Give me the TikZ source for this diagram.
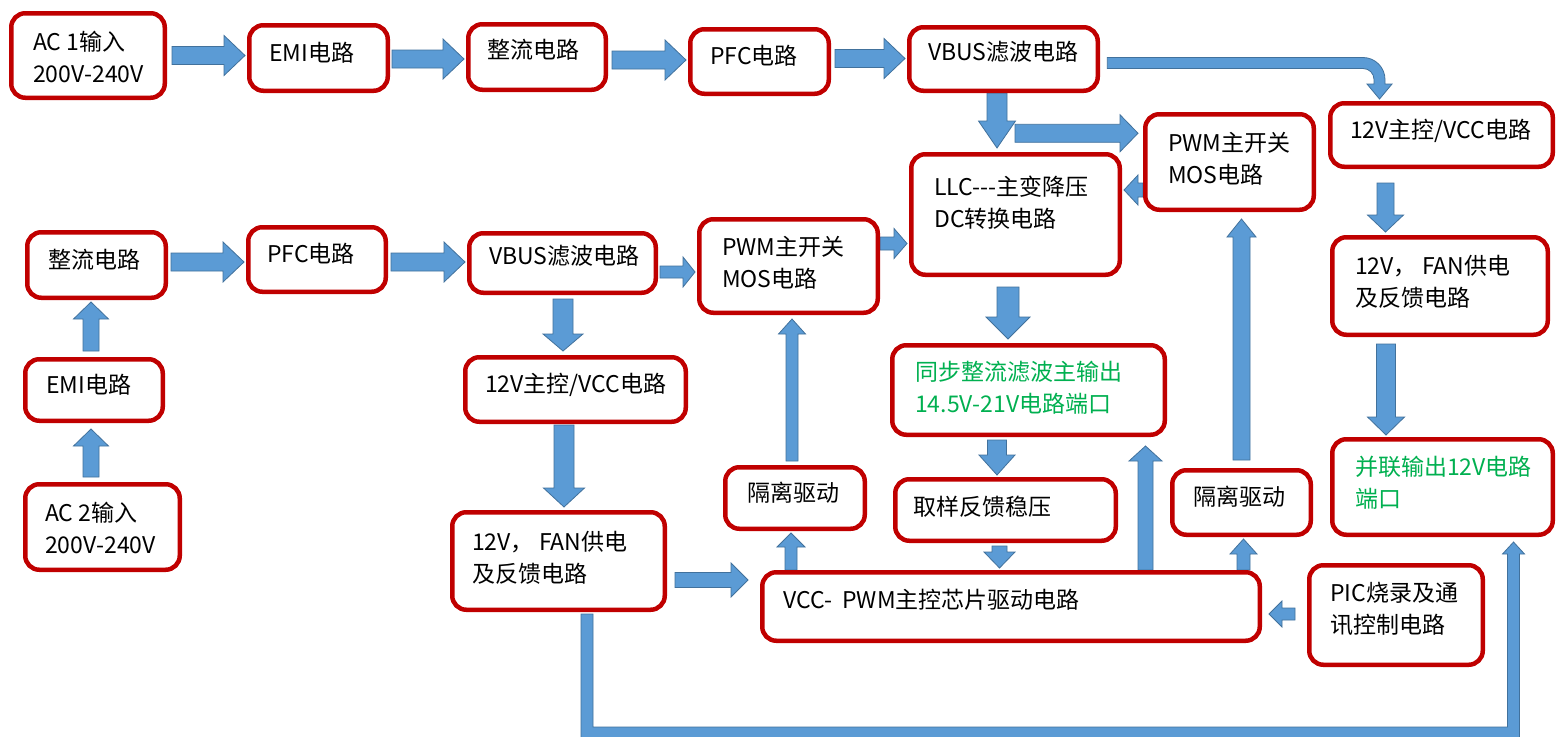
\documentclass[tikz,border=0pt]{standalone}
\usepackage{fontspec}
\setmainfont{Noto Sans CJK SC}
\usetikzlibrary{calc}
\definecolor{boxred}{HTML}{C00000}
\definecolor{afill}{HTML}{5B9BD5}
\definecolor{aline}{HTML}{41719C}
\definecolor{tgreen}{HTML}{00B050}
\pgfdeclarelayer{bgl}
\pgfdeclarelayer{arl}
\pgfsetlayers{bgl,arl,main}
\pgfkeys{/blk/.is family,/blk,
  s/.store in=\blkS, h/.store in=\blkH, l/.store in=\blkL,
  a/.store in=\blkA, b/.store in=\blkB,
  s=9pt, h=20pt, l=21pt, a=0pt, b=2pt}
\tikzset{
  box/.style={draw=boxred, line width=4.5pt, rounded corners=14pt, fill=white, inner sep=0pt},
  txt/.style={anchor=west, inner sep=0pt, align=left, font=\fontsize{23}{32}\selectfont},
  gtxt/.style={txt, text=tgreen},
  blkarrow/.style={fill=afill, draw=aline, line width=0.8pt, line join=miter},
}
% generic block arrow: #1 keys, #2 start, #3 target, #4 end point expression
\newcommand\blkarr[4]{\begingroup\pgfkeys{/blk,#1}%
  \path[blkarrow] let \p1=#2, \p9=#3, \p2=#4, \n2={atan2(\y2-\y1,\x2-\x1)},
    \p3=($(\p1)+(\n2:\blkA)$), \p4=($(\p2)+(\n2+180:\blkB)$), \p5=($(\p4)+(\n2+180:\blkL)$) in
    ($(\p3)+(\n2+90:\blkS)$) -- ($(\p5)+(\n2+90:\blkS)$) -- ($(\p5)+(\n2+90:\blkH)$) -- (\p4)
    -- ($(\p5)+(\n2-90:\blkH)$) -- ($(\p5)+(\n2-90:\blkS)$) -- ($(\p3)+(\n2-90:\blkS)$) -- cycle;
  \endgroup}
\newcommand\harr[3][]{\blkarr{#1}{#2}{#3}{(\x9,\y1)}}
\newcommand\varr[3][]{\blkarr{#1}{#2}{#3}{(\x1,\y9)}}
\newcommand\bx[5]{\node[box, minimum width={#4-#2-4.5}, minimum height={#5-#3-4.5}] (#1) at ({(#2+#4)/2},{(#3+#5)/2}) {};}
\begin{document}
\begin{tikzpicture}[x=1pt, y=-1pt]
\begin{pgfonlayer}{bgl}
\fill[white] (0,0) rectangle (1557,736);
\end{pgfonlayer}
\useasboundingbox (0,0) rectangle (1557,736);
% boxes
\bx{ac1}{9}{11}{167}{100}
\bx{emi1}{247}{23}{390}{93}
\bx{zl1}{466}{22}{608}{92}
\bx{pfc1}{688}{27}{831}{96}
\bx{vbus1}{907}{25}{1100}{93}
\bx{ctl1}{1328}{101}{1555}{169}
\bx{pwm1}{1143}{112}{1316}{212}
\bx{llc}{909}{152}{1122}{277}
\bx{fan1}{1330}{235}{1550}{337}
\bx{out12}{1330}{437}{1555}{537}
\bx{zl2}{25}{230}{168}{300}
\bx{pfc2}{246}{225}{388}{294}
\bx{vbus2}{467}{231}{658}{295}
\bx{pwm2}{697}{217}{880}{315}
\bx{emi2}{23}{357}{165}{423}
\bx{ctl2}{463}{355}{688}{424}
\bx{sync}{890}{343}{1167}{437}
\bx{ac2}{23}{482}{182}{572}
\bx{fan2}{450}{510}{667}{612}
\bx{iso1}{723}{465}{867}{531}
\bx{samp}{893}{477}{1118}{543}
\bx{iso2}{1170}{468}{1313}{537}
\bx{vcc}{760}{570}{1262}{643}
\bx{pic}{1307}{563}{1485}{667}
% texts
\node[txt] (ac1-t) at (33,57) {AC 1输入\\200V-240V};
\node[txt] (emi1-t) at (269,53) {EMI电路};
\node[txt] (zl1-t) at (487,50) {整流电路};
\node[txt] (pfc1-t) at (710,56) {PFC电路};
\node[txt] (vbus1-t) at (928,52) {VBUS滤波电路};
\node[txt] (ctl1-t) at (1350,131) {12V主控/VCC电路};
\node[txt] (pwm1-t) at (1168,159) {PWM主开关\\MOS电路};
\node[txt] (llc-t) at (934,203) {LLC-\kern0pt-\kern0pt-主变降压\\DC转换电路};
\node[txt] (fan1-t) at (1355,282) {12V，\ FAN供电\\及反馈电路};
\node[gtxt] (out12-t) at (1355,483) {并联输出12V电路\\端口};
\node[txt] (zl2-t) at (48,260) {整流电路};
\node[txt] (pfc2-t) at (267,254) {PFC电路};
\node[txt] (vbus2-t) at (489,256) {VBUS滤波电路};
\node[txt] (pwm2-t) at (722,263) {PWM主开关\\MOS电路};
\node[txt] (emi2-t) at (46,385) {EMI电路};
\node[txt] (ctl2-t) at (485,385) {12V主控/VCC电路};
\node[gtxt] (sync-t) at (915,388) {同步整流滤波主输出\\14.5V-21V电路端口};
\node[txt] (ac2-t) at (45,528) {AC 2输入\\200V-240V};
\node[txt] (fan2-t) at (472,558) {12V，\ FAN供电\\及反馈电路};
\node[txt] (iso1-t) at (747,493) {隔离驱动};
\node[txt] (samp-t) at (913,507) {取样反馈稳压};
\node[txt] (iso2-t) at (1193,497) {隔离驱动};
\node[txt] (vcc-t) at (783,600) {VCC-\ \ PWM主控芯片驱动电路};
\node[txt] (pic-t) at (1330,609) {PIC烧录及通\\讯控制电路};
% arrows
\begin{pgfonlayer}{arl}
\harr{($(ac1.east)+(5,0)$)}{(emi1.west)}
\harr{($(emi1.east)+(2,1)$)}{(zl1.west)}
\harr{($(zl1.east)+(4,3)$)}{(pfc1.west)}
\harr{($(pfc1.east)+(4,-3)$)}{(vbus1.west)}
\harr{($(zl2.east)+(3,-3)$)}{(pfc2.west)}
\harr{($(pfc2.east)+(3,2.5)$)}{(vbus2.west)}
\harr[s=6pt,h=15pt,l=12pt]{($(vbus2.east)+(2,9)$)}{(pwm2.west)}
\harr[s=6.5pt,h=15pt,l=13pt]{($(pwm2.east)+(0,-22.5)$)}{(llc.west)}
\harr[s=7pt,h=15pt,l=14pt]{($(pwm1.west)+(0,28)$)}{(llc.east)}
\harr[s=9pt,h=18.5pt,l=18pt,b=5pt]{($(vbus1.south)+(11.5,40.25)$)}{(pwm1.west)}
\varr[s=10pt,h=18.5pt,l=27pt,b=4pt]{($(vbus1.south)+(-6.5,0)$)}{(llc.north)}
\varr[s=8.5pt,h=18pt,l=17pt,b=3pt]{($(ctl1.south)+(-56,14)$)}{(fan1.north)}
\varr[s=9.5pt,h=18.5pt,l=18pt]{($(fan1.south)+(-54,7)$)}{(out12.north)}
\varr[s=8pt,h=17.5pt,l=17pt]{($(emi2.north)+(-3,-6)$)}{(zl2.south)}
\varr[s=8pt,h=17.5pt,l=17pt,b=6pt]{($(ac2.north)+(-11.5,-5)$)}{(emi2.south)}
\varr[s=10pt,h=20pt,l=17pt,b=4pt]{($(vbus2.south)+(0.5,4)$)}{(ctl2.north)}
\varr[s=10pt,h=20.5pt,l=19pt,b=3pt]{($(ctl2.south)+(-11.5,1)$)}{(fan2.north)}
\varr[s=11pt,h=22pt,l=22pt,b=4pt]{($(llc.south)+(-7.5,10)$)}{(sync.north)}
\varr[s=9.5pt,h=18pt,l=20pt]{($(sync.south)+(-31.5,3)$)}{(samp.north)}
\varr[s=7.5pt,h=15.5pt,l=16pt]{($(samp.south)+(-6,3)$)}{(vcc.north)}
\harr[s=7.5pt,h=17pt,l=17pt,b=12pt]{($(fan2.east)+(8,19)$)}{(vcc.west)}
\varr[s=6pt,h=14pt,l=14pt]{($(vcc.north)+(-220,0)$)}{(iso1.south)}
\varr[s=6pt,h=13.5pt,l=15pt,b=4pt]{($(iso1.north)+(-3,-4)$)}{(pwm2.south)}
\varr[s=7.5pt,h=16.5pt,l=15pt,b=9pt]{($(vcc.north)+(134.5,0)$)}{(sync.south)}
\varr[s=6.5pt,h=13.5pt,l=15pt]{($(vcc.north)+(232.5,0)$)}{(iso2.south)}
\varr[s=8.5pt,h=14.5pt,l=18pt,b=7pt]{($(iso2.north)+(0,-8)$)}{(pwm1.south)}
\harr[s=6pt,h=13pt,l=13pt,b=7pt]{($(pic.west)+(-12,-1)$)}{(vcc.east)}
% bent arrow VBUS -> 12V main control
\path[blkarrow] let \p1=($(vbus1.east)+(7.25,4)$), \p2=($(ctl1.north)+(-62,-2)$) in
  (\x1,\y1+5.5pt) -- (\x2-16.5pt,\y1+5.5pt)
  .. controls (\x2-4.4pt,\y1+5.5pt) and (\x2+5.5pt,\y1-4.4pt) .. (\x2+5.5pt,\y1-16.5pt)
  -- (\x2+5.5pt,\y2+15pt) -- (\x2+12.5pt,\y2+15pt) -- (\x2,\y2) -- (\x2-12.5pt,\y2+15pt)
  -- (\x2-5.5pt,\y2+15pt) -- (\x2-5.5pt,\y1-16.5pt)
  .. controls (\x2-5.5pt,\y1-10.4pt) and (\x2-10.4pt,\y1-5.5pt) .. (\x2-16.5pt,\y1-5.5pt)
  -- (\x1,\y1-5.5pt) -- cycle;
% bottom loop FAN -> parallel output
\path[blkarrow] let \p1=($(fan2.south)+(28.5,2)$), \p2=($(out12.south)+(71,5)$) in
  (\x1-6pt,\y1) -- (\x1-6pt,\y1-124pt) -- (\x2+6pt,\y1-124pt) -- (\x2+6pt,\y2-12pt)
  -- (\x2+11pt,\y2-12pt) -- (\x2,\y2) -- (\x2-11pt,\y2-12pt) -- (\x2-6pt,\y2-12pt)
  -- (\x2-6pt,\y1-113pt) -- (\x1+6pt,\y1-113pt) -- (\x1+6pt,\y1) -- cycle;
\end{pgfonlayer}
\end{tikzpicture}
\end{document}
